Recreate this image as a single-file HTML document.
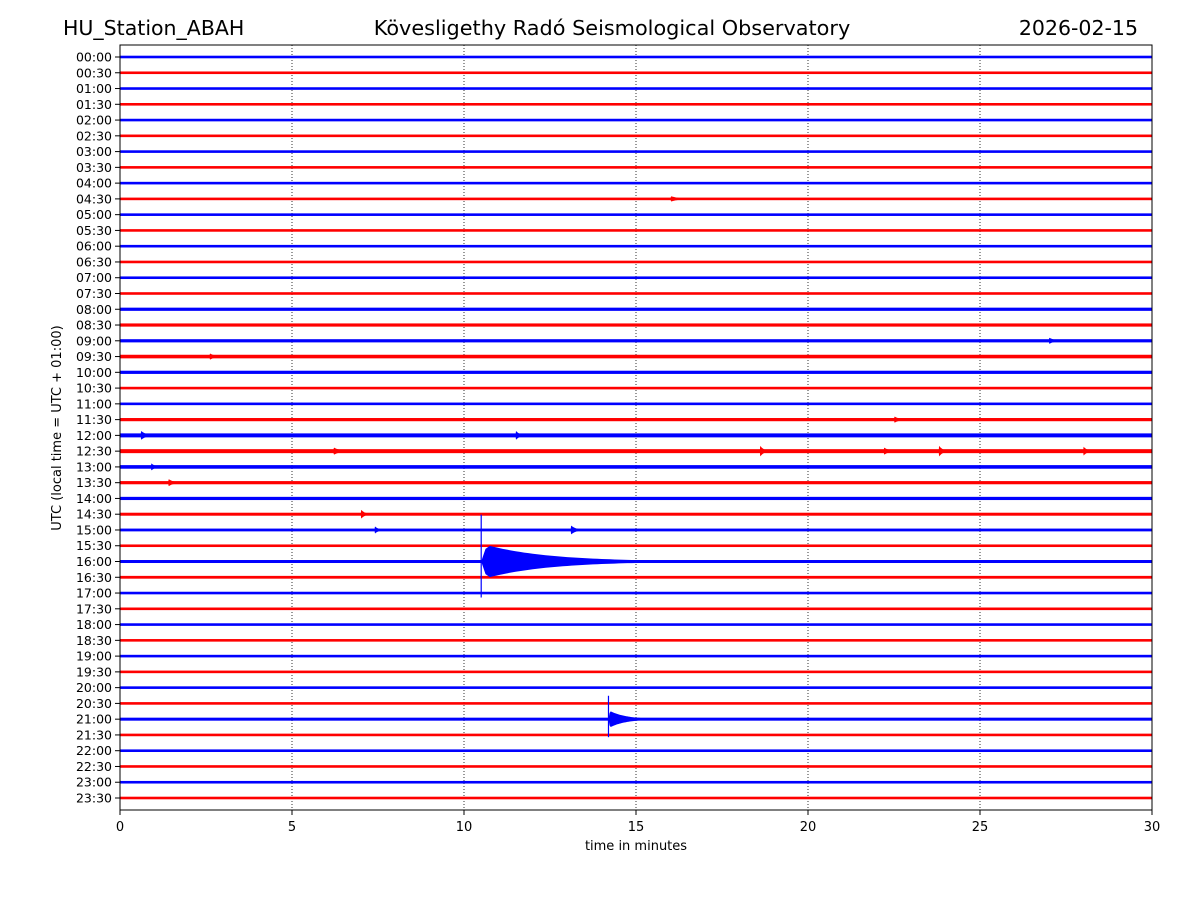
<!DOCTYPE html>
<html><head><meta charset="utf-8"><style>
body{margin:0;background:#fff;}
svg{display:block;font-family:"DejaVu Sans","Liberation Sans",sans-serif;}
</style></head><body>
<svg id="chart" width="1200" height="900">
<text x="63" y="35" font-size="20.5">HU_Station_ABAH</text>
<text x="612" y="35" font-size="20.8" text-anchor="middle">Kövesligethy Radó Seismological Observatory</text>
<text x="1138" y="35" font-size="20.5" text-anchor="end">2026-02-15</text>
<g id="plot"></g>
<rect x="120" y="45" width="1032" height="765" fill="none" stroke="#000" stroke-width="1"/>
<text x="636" y="850" font-size="13" text-anchor="middle">time in minutes</text>
<text transform="translate(61,428) rotate(-90)" font-size="13" text-anchor="middle">UTC (local time = UTC + 01:00)</text>
</svg>
<script>
const xTicks=[0,5,10,15,20,25,30];
const rowLabels=[];for(let h=0;h<24;h++){const hh=String(h).padStart(2,'0');rowLabels.push(hh+':00',hh+':30');}
// noise half-amplitude per row (px)
const noiseAmp=[1.3,1.3,1.3,1.3,1.3,1.3,1.3,1.3,1.3,1.3,1.3,1.3,1.3,1.3,1.3,1.3,1.6,1.6,1.6,1.8,1.6,1.3,1.3,1.6,2,2,1.8,1.6,1.6,1.5,1.4,1.3,1.5,1.4,1.3,1.3,1.3,1.3,1.3,1.3,1.3,1.3,1.5,1.3,1.3,1.3,1.3,1.3];
// events: row index, start minute, peak half-amplitude (px), duration (min)
const evRow=[32,32,42,24,24,25,25,25,25,25,29,30,30,27,26,18,19,23,9];
const evStart=[10.5,11.8,14.2,0.6,11.5,18.6,23.8,28.0,6.2,22.2,7.0,13.1,7.4,1.4,0.9,27.0,2.6,22.5,16];
const evAmp=[18,5,9,5,5,6,6,5,4,4,5,5,4,4,4,3.5,3.5,3.5,3];
const evDur=[5,3,1.3,0.4,0.3,0.3,0.3,0.3,0.5,0.4,0.3,0.4,0.3,0.4,0.3,0.4,0.4,0.4,0.6];
const X=m=>120+m*1032/30, Y=i=>57+i*(798-57)/47;
const NS='http://www.w3.org/2000/svg', g=document.getElementById('plot');
function mk(t,a){const e=document.createElementNS(NS,t);for(const k in a)e.setAttribute(k,a[k]);g.appendChild(e);return e;}
xTicks.forEach((t,i)=>{
 if(i>0&&i<xTicks.length-1){const l=mk('line',{x1:X(t),x2:X(t),y1:45,y2:810,stroke:'#000','stroke-width':0.8,'stroke-dasharray':'1,2'});
 
 }
 const k=mk('line',{x1:X(t),x2:X(t),y1:810,y2:815,stroke:'#000'});
 
 
 const tx=mk('text',{x:X(t),y:831,'font-size':13,'text-anchor':'middle'});tx.textContent=t;
 
 
});
rowLabels.forEach((lab,i)=>{
 const c=i%2?'#f00':'#00f', y=Y(i), a=noiseAmp[i];
 const k=mk('line',{x1:115,x2:120,y1:y,y2:y,stroke:'#000'});
 
 
 const tx=mk('text',{x:112,y:y+4.5,'font-size':12.5,'text-anchor':'end'});tx.textContent=lab;
 
 
 const r=mk('rect',{x:120,y:y-a,width:1032,height:2*a,fill:c});
 
 
});
evRow.forEach((ri,j)=>{
 const c=ri%2?'#f00':'#00f', y=Y(ri), t0=evStart[j], A=evAmp[j], D=evDur[j];
 let top=[],bot=[];
 for(let s=0;s<=40;s++){const f=s/40, t=t0+D*f, rise=Math.min(1,f*30), env=A*rise*Math.exp(-2.8*f);
  top.push(X(t)+','+(y-env));bot.unshift(X(t)+','+(y+env));}
 const p=mk('polygon',{points:top.concat(bot).join(' '),fill:c});
 
 
 if(A>8){const sp=mk('line',{x1:X(t0),x2:X(t0),y1:y-A*2.6,y2:y+A*2,stroke:c,'stroke-width':1.2});
  
  }
});
</script>
</body></html>
